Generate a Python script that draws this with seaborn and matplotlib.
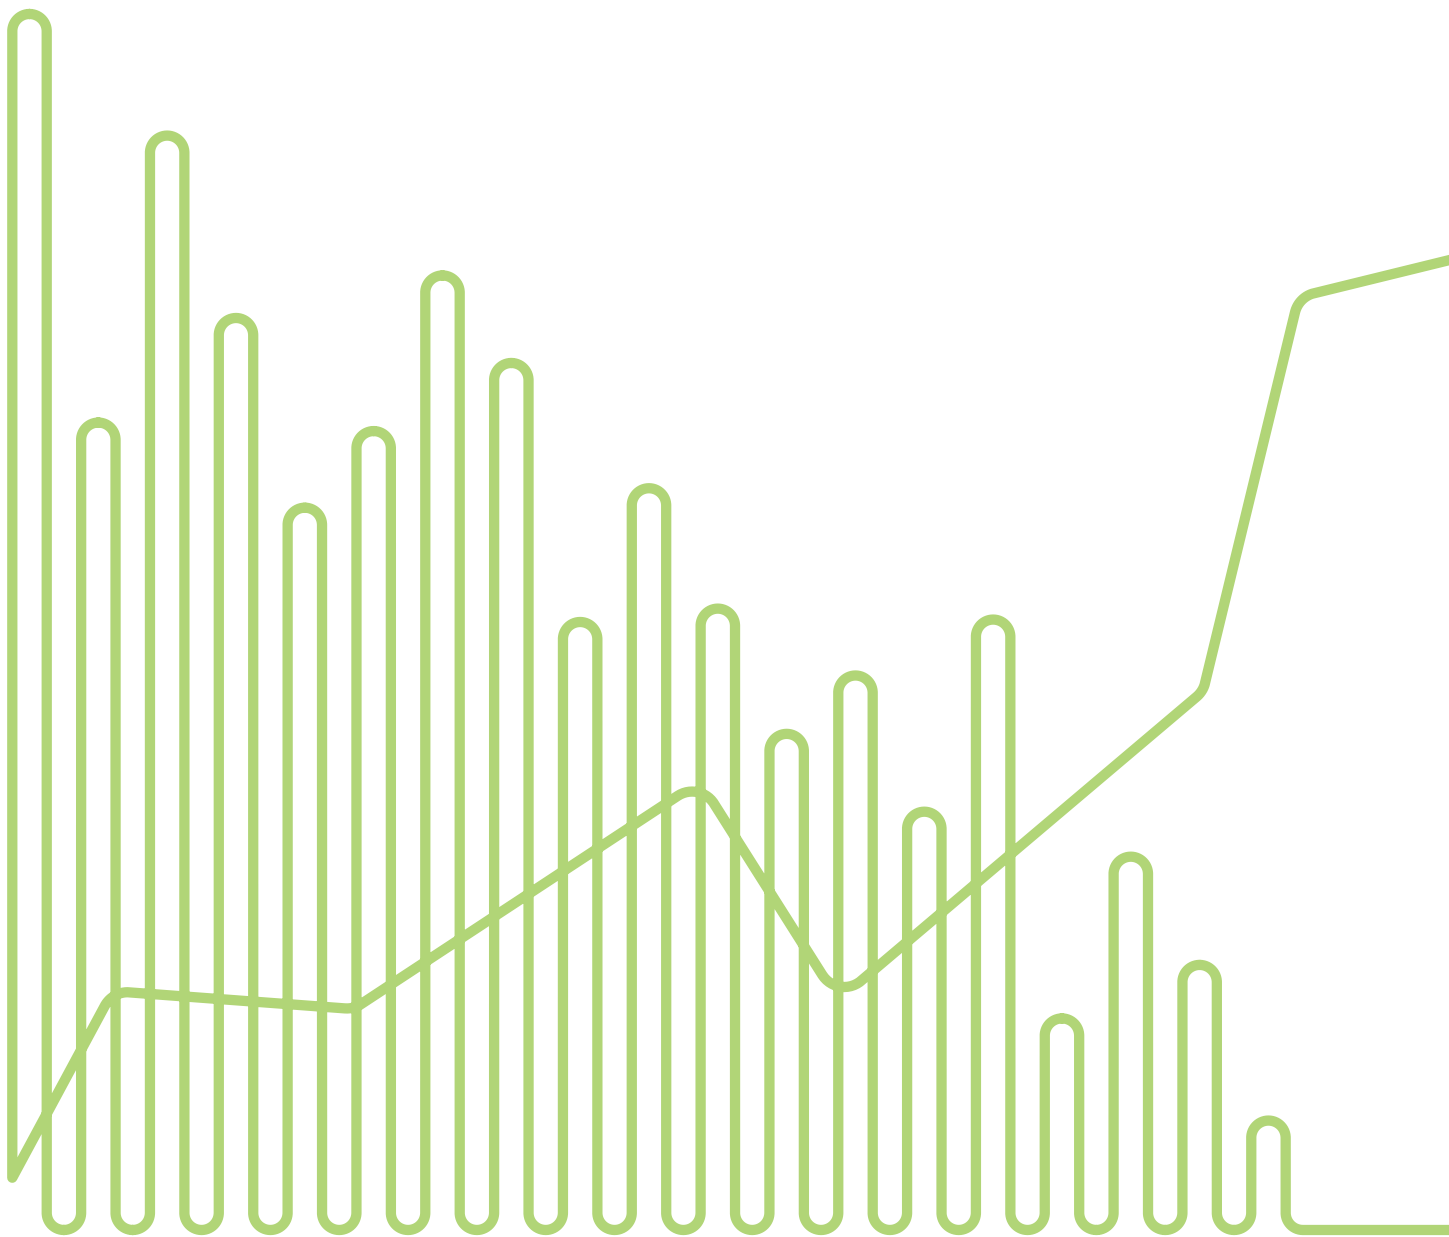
import numpy as np
import pandas as pd
import matplotlib
matplotlib.use("Agg")
import matplotlib.pyplot as plt
import seaborn as sns

# ---- data -------------------------------------------------------------
bar_index = list(range(19))
bar_tops = [100.0, 66.4, 90.0, 75.0, 59.4, 65.7, 78.5, 71.3, 50.0, 61.0,
            51.1, 40.8, 45.6, 34.4, 50.2, 17.4, 30.7, 21.8, 9.0]
line_x = [-0.25, 1.21, 4.71, 9.74, 11.75, 17.05, 18.44, 20.8]
line_y = [4.3, 19.65, 18.17, 36.9, 18.9, 44.3, 76.73, 80.0]
tail_end_x = 20.8
bar_half = 0.25
baseline = 0.0

COLOR = "#b1d577"
LINE_CORNER_PX = 26.0

sns.set_theme(style="white")
fig = plt.figure(figsize=(14.49, 12.37), dpi=100)
ax = fig.add_axes([0, 0, 1, 1])
ax.set_xlim(-0.4286, 20.623)
ax.set_ylim(-0.576, 101.15)
ax.set_axis_off()

# ---- build vertex list in data coordinates ----------------------------
verts = []
kinds = []
for x, y in zip(reversed(line_x), reversed(line_y)):
    verts.append((x, y))
    kinds.append("line")
kinds[-1] = "join"  # junction between line and bars

for i, top in zip(bar_index, bar_tops):
    if i > bar_index[0]:
        verts.append((i - bar_half, baseline)); kinds.append("bar")
    verts.append((i - bar_half, top)); kinds.append("bar")
    verts.append((i + bar_half, top)); kinds.append("bar")
    verts.append((i + bar_half, baseline)); kinds.append("bar")
verts.append((tail_end_x, baseline)); kinds.append("end")

disp = ax.transData.transform(np.array(verts, dtype=float))
bar_r_px = (ax.transData.transform((bar_half, 0)) - ax.transData.transform((0, 0)))[0]
radii = []
for k in kinds:
    if k == "line":
        radii.append(LINE_CORNER_PX)
    elif k == "bar":
        radii.append(bar_r_px)
    else:
        radii.append(0.0)


def fillet(points, radii, n=28):
    out = [points[0]]
    for k in range(1, len(points) - 1):
        V = points[k]
        R = radii[k]
        d1 = points[k - 1] - V
        d2 = points[k + 1] - V
        l1 = np.hypot(*d1)
        l2 = np.hypot(*d2)
        if R <= 0 or l1 == 0 or l2 == 0:
            out.append(V)
            continue
        u1 = d1 / l1
        u2 = d2 / l2
        theta = np.arccos(np.clip(np.dot(u1, u2), -1, 1))
        if theta < 1e-3 or abs(theta - np.pi) < 1e-3:
            out.append(V)
            continue
        t = R / np.tan(theta / 2)
        t = min(t, 0.5 * min(l1, l2) + 1e-6)
        Reff = t * np.tan(theta / 2)
        bis = u1 + u2
        bis = bis / np.hypot(*bis)
        C = V + bis * Reff / np.sin(theta / 2)
        A = V + u1 * t
        B = V + u2 * t
        a0 = np.arctan2(*(A - C)[::-1])
        a1 = np.arctan2(*(B - C)[::-1])
        delta = (a1 - a0 + np.pi) % (2 * np.pi) - np.pi
        angs = a0 + delta * np.linspace(0, 1, n)
        for a in angs:
            out.append(C + Reff * np.array([np.cos(a), np.sin(a)]))
    out.append(points[-1])
    return np.array(out)


path_disp = fillet(disp, radii)
path_data = ax.transData.inverted().transform(path_disp)
df = pd.DataFrame({"x": path_data[:, 0], "y": path_data[:, 1]})

sns.lineplot(data=df, x="x", y="y", sort=False, estimator=None,
             color=COLOR, linewidth=7.4, ax=ax)
for ln in ax.lines:
    ln.set_solid_joinstyle("round")
    ln.set_solid_capstyle("round")

ax.set_xlim(-0.4286, 20.623)
ax.set_ylim(-0.576, 101.15)
ax.set_axis_off()
fig.savefig("out.png", dpi=100, facecolor="white")
